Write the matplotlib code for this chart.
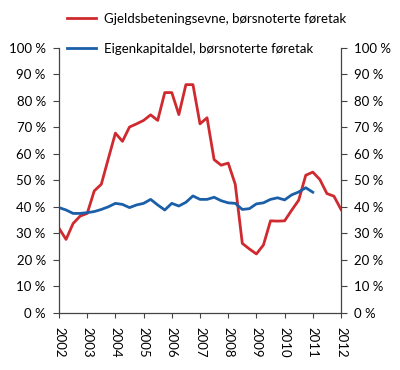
import numpy as np
import matplotlib.pyplot as plt
from matplotlib.ticker import FuncFormatter

plt.rcParams['font.family'] = ['Lato', 'DejaVu Sans']

# Kvartalsdata 2002K1 - 2012K1
gjeld = [31.9, 27.7, 33.7, 36.5, 37.5, 46.0, 48.5, 58.2, 67.8, 64.7,
         70.1, 71.3, 72.6, 74.7, 72.6, 83.1, 83.1, 74.8, 86.1, 86.1,
         71.3, 73.6, 57.8, 55.7, 56.5, 48.5, 26.2, 24.1, 22.2, 25.6,
         34.7, 34.6, 34.7, 38.7, 42.5, 51.9, 53.1, 50.3, 45.0, 44.0,
         39.0]
eigen = [39.7, 38.8, 37.5, 37.5, 37.8, 38.2, 39.0, 40.0, 41.3, 40.9,
         39.7, 40.7, 41.3, 42.8, 40.7, 38.8, 41.3, 40.3, 41.7, 44.1,
         42.8, 42.8, 43.6, 42.3, 41.5, 41.3, 39.0, 39.3, 41.1, 41.5,
         42.8, 43.4, 42.6, 44.5, 45.6, 47.2, 45.5]
start_year = 2002
years = list(range(2002, 2013))
yticks = list(range(0, 101, 10))

t_gjeld = start_year + 0.25 * np.arange(len(gjeld))
t_eigen = start_year + 0.25 * np.arange(len(eigen))

red = '#cf2a2f'
blue = '#1b5fa8'

fig = plt.figure(figsize=(4, 3.7), dpi=100)
ax = fig.add_axes([0.1475, 0.1546, 0.705, 0.7162])

ax.plot(t_gjeld, gjeld, color=red, lw=2.0, label='Gjeldsbeteningsevne, børsnoterte føretak')
ax.plot(t_eigen, eigen, color=blue, lw=2.0, label='Eigenkapitaldel, børsnoterte føretak')

ax.set_xlim(2002, 2012)
ax.set_ylim(0, 100)
ax.set_xticks(years)
ax.set_xticklabels([str(y) for y in years], rotation=270, fontsize=9.5)
ax.set_yticks(yticks)
ax.yaxis.set_major_formatter(FuncFormatter(lambda v, p: f'{int(v)} %'))

ax.spines['top'].set_visible(False)
for s in ['left', 'right', 'bottom']:
    ax.spines[s].set_color('#444444')
    ax.spines[s].set_linewidth(0.9)

ax.tick_params(axis='y', which='both', direction='out', length=4.5, width=0.8,
               color='#444444', labelsize=9.5, pad=5, left=True, right=True,
               labelleft=True, labelright=True)
ax.tick_params(axis='x', direction='out', length=3.5, width=0.8,
               color='#444444', labelsize=9.5, pad=7)

fig.legend(loc='upper left', bbox_to_anchor=(0.168, 0.966), frameon=False,
           fontsize=9.5, handlelength=2.2, handletextpad=0.6, labelspacing=1.4,
           borderpad=0, borderaxespad=0)

fig.savefig('out.png', dpi=100)
